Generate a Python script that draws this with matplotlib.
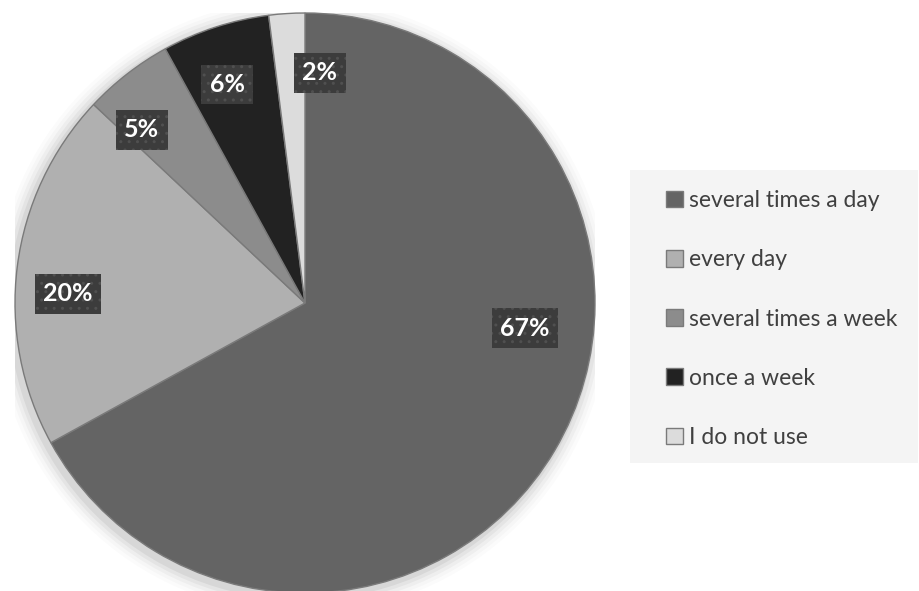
import numpy as np
import matplotlib
matplotlib.use("Agg")
import matplotlib.pyplot as plt
from matplotlib.patches import Rectangle, Circle

# data
categories = ["several times a day", "every day", "several times a week", "once a week", "I do not use"]
shares = [67, 20, 5, 6, 2]
colors = ["#646464", "#b0b0b0", "#8c8c8c", "#222222", "#dcdcdc"]

# where Excel put each percentage label (angle in degrees, distance as fraction of radius)
label_angle = [-6.5, 177.8, 133.3, 109.6, 86.3]
label_dist = [0.763, 0.818, 0.82, 0.80, 0.795]

plt.rcParams['font.family'] = ['Lato', 'DejaVu Sans']

fig = plt.figure(figsize=(9.2, 5.91), dpi=100)
fig.patch.set_facecolor("white")

# pie axes: centre ~ (305, 303) px, radius ~ 290 px
W, H = 920, 591
cx, cy, r = 305, 303, 290
ax = fig.add_axes([(cx - r) / W, (H - cy - r) / H, 2 * r / W, 2 * r / H])

# soft shadow round the pie
for k, a in enumerate([0.05, 0.04, 0.03, 0.02, 0.015]):
    ax.add_patch(Circle((-0.01, -0.012), 1.0 + 0.012 * (k + 1), color="black",
                        alpha=a, lw=0, zorder=0))

wedges, texts, autotexts = ax.pie(
    shares, colors=colors, startangle=90, counterclock=False,
    autopct="%d%%", pctdistance=0.8,
    wedgeprops=dict(edgecolor="#7a7a7a", linewidth=1.0),
    textprops=dict(color="white", fontsize=18, fontweight="bold"))

for t, ang, d in zip(autotexts, label_angle, label_dist):
    t.set_position((d * np.cos(np.radians(ang)), d * np.sin(np.radians(ang))))
    t.set_bbox(dict(boxstyle="square,pad=0.33", facecolor="#3c3c3c",
                    edgecolor="#505050", hatch="..", linewidth=0))
    t.set_zorder(5)

ax.set_xlim(-1, 1)
ax.set_ylim(-1, 1)
ax.set_aspect("equal")
ax.axis("off")

# legend panel
fig.patches.append(Rectangle((630 / W, (H - 463) / H), 288 / W, 293 / H,
                             transform=fig.transFigure, facecolor="#f4f4f4",
                             edgecolor="none", zorder=0))

leg = fig.legend(wedges, categories, loc="center left",
                 bbox_to_anchor=(666 / W, (H - 319) / H),
                 frameon=False, fontsize=16.5, labelcolor="#404040",
                 handlelength=0.74, handleheight=0.74, handletextpad=0.25,
                 labelspacing=1.67, borderaxespad=0, borderpad=0)

fig.savefig("out.png", dpi=100)
